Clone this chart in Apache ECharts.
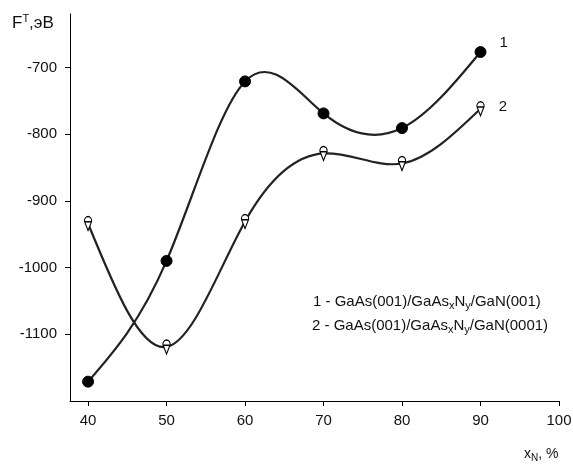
<!DOCTYPE html>
<html><head><meta charset="utf-8">
<script src="https://cdn.jsdelivr.net/npm/echarts@6/dist/echarts.min.js"></script>
<style>html,body{margin:0;padding:0;background:#fff}#c{width:573px;height:464px}</style>
</head><body><div id="c"></div>
<script>
const xValues = [40, 50, 60, 70, 80, 90];
const series1 = [-1171, -990, -721, -769, -791, -677];
const series2 = [-934, -1119, -931, -829, -844, -762];
const xTicks = [40, 50, 60, 70, 80, 90, 100];
const yTicks = [-1100, -1000, -900, -800, -700];
const seriesNames = ['1', '2'];
const legendLines = [
  '1 - GaAs(001)/GaAs{s|x}N{s|y}/GaN(001)',
  '2 - GaAs(001)/GaAs{s|x}N{s|y}/GaN(0001)'
];

const FONT = '"Liberation Sans", Arial, sans-serif';
const chart = echarts.init(document.getElementById('c'), null, {renderer: 'canvas'});

const pairs = arr => xValues.map((x, i) => [x, arr[i]]);

// natural cubic spline slopes at the knots (used only to shape the drawn curve)
function splineSlopes(xs, ys) {
  const n = xs.length;
  const h = [], M = new Array(n).fill(0);
  for (let i = 0; i < n - 1; i++) h.push(xs[i + 1] - xs[i]);
  const a = [], b = [], c = [], d = [];
  for (let i = 1; i < n - 1; i++) {
    a.push(h[i - 1]); b.push(2 * (h[i - 1] + h[i])); c.push(h[i]);
    d.push(6 * ((ys[i + 1] - ys[i]) / h[i] - (ys[i] - ys[i - 1]) / h[i - 1]));
  }
  const m = b.length;
  for (let i = 1; i < m; i++) {
    const w = a[i] / b[i - 1];
    b[i] -= w * c[i - 1]; d[i] -= w * d[i - 1];
  }
  const sol = new Array(m);
  for (let i = m - 1; i >= 0; i--) sol[i] = (d[i] - (i < m - 1 ? c[i] * sol[i + 1] : 0)) / b[i];
  for (let i = 0; i < m; i++) M[i + 1] = sol[i];
  const s = [];
  for (let i = 0; i < n - 1; i++) s.push((ys[i + 1] - ys[i]) / h[i] - h[i] * (2 * M[i] + M[i + 1]) / 6);
  s.push((ys[n - 1] - ys[n - 2]) / h[n - 2] + h[n - 2] * (M[n - 2] + 2 * M[n - 1]) / 6);
  return s;
}

function curveSeries(ys) {
  const slopes = splineSlopes(xValues, ys);
  return {
    type: 'custom',
    data: pairs(ys),
    silent: true,
    z: 2,
    renderItem: function (params, api) {
      const i = params.dataIndex;
      if (i >= xValues.length - 1) return null;
      const x0 = xValues[i], x1 = xValues[i + 1], hh = (x1 - x0) / 3;
      const p0 = api.coord([x0, ys[i]]);
      const p1 = api.coord([x1, ys[i + 1]]);
      const c0 = api.coord([x0 + hh, ys[i] + slopes[i] * hh]);
      const c1 = api.coord([x1 - hh, ys[i + 1] - slopes[i + 1] * hh]);
      return {
        type: 'bezierCurve',
        shape: {x1: p0[0], y1: p0[1], x2: p1[0], y2: p1[1], cpx1: c0[0], cpy1: c0[1], cpx2: c1[0], cpy2: c1[1]},
        style: {stroke: '#222', lineWidth: 2.2, fill: null}
      };
    }
  };
}

const openMarker = 'path://M1,5 A4,4 0 1 1 9,5 L5,13 Z M1,5.5 L9,5.5';
const sub = {fontSize: 11, padding: [9, 0, 0, 0], fontFamily: FONT, color: '#111'};
const textStyle = (text, rich, size) => ({text, fontSize: size || 15, fontFamily: FONT, fill: '#111', rich});
const last = xValues.length - 1;

chart.setOption({
  animation: false,
  backgroundColor: '#fff',
  grid: {left: 70, right: 14, top: 14, bottom: 63, containLabel: false, outerBoundsMode: 'none'},
  xAxis: {
    type: 'value', min: 37.7, max: 100,
    axisLine: {show: true, onZero: false, lineStyle: {color: '#000', width: 1}},
    axisTick: {show: true, length: 5, customValues: xTicks, lineStyle: {color: '#000'}},
    axisLabel: {customValues: xTicks, margin: 12, color: '#111', fontSize: 15, fontFamily: FONT,
      formatter: v => String(v)},
    splitLine: {show: false}
  },
  yAxis: {
    type: 'value', min: -1200, max: -620,
    axisLine: {show: true, onZero: false, lineStyle: {color: '#000', width: 1}},
    axisTick: {show: true, length: 5, customValues: yTicks, lineStyle: {color: '#000'}},
    axisLabel: {customValues: yTicks, margin: 13, color: '#111', fontSize: 15, fontFamily: FONT,
      formatter: v => String(v)},
    splitLine: {show: false}
  },
  series: [
    curveSeries(series1),
    curveSeries(series2),
    {
      name: seriesNames[0], type: 'scatter', data: pairs(series1), z: 3,
      symbol: 'circle', symbolSize: 11,
      itemStyle: {color: '#000', borderColor: '#000', opacity: 1},
      label: {show: true, position: 'right', distance: 5, offset: [8, -9],
        formatter: p => p.dataIndex === last ? seriesNames[0] : '',
        fontSize: 15, fontFamily: FONT, color: '#111'}
    },
    {
      name: seriesNames[1], type: 'scatter', data: pairs(series2), z: 3,
      symbol: openMarker, symbolSize: [11, 14], symbolKeepAspect: true,
      itemStyle: {color: '#fff', borderColor: '#000', borderWidth: 1.2, opacity: 1},
      label: {show: true, position: 'right', distance: 5, offset: [9, -2],
        formatter: p => p.dataIndex === last ? seriesNames[1] : '',
        fontSize: 15, fontFamily: FONT, color: '#111'}
    }
  ],
  graphic: [
    {
      type: 'text', left: 12, top: 13,
      style: textStyle('F{sup|T},эВ', {sup: {fontSize: 11, padding: [0, 0, 9, 0], fontFamily: FONT, color: '#111'}}, 17)
    },
    {type: 'text', left: 524, top: 447, style: textStyle('x{s|N}, %', {s: {fontSize: 10, padding: [8, 0, 0, 0], fontFamily: FONT, color: '#111'}}, 14)},
    {type: 'text', left: 313, top: 294, style: textStyle(legendLines[0], {s: sub})},
    {type: 'text', left: 312, top: 318, style: textStyle(legendLines[1], {s: sub})}
  ]
});
</script>
</body></html>
